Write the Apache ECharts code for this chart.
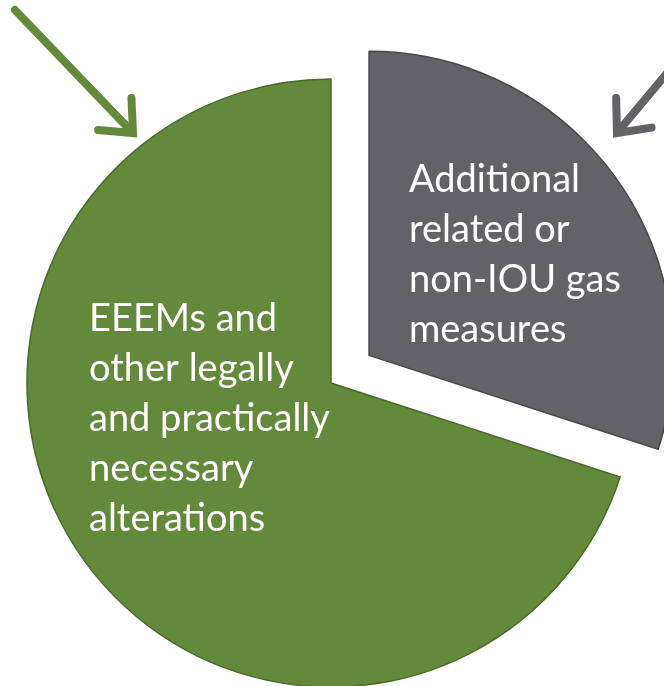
<!DOCTYPE html>
<html>
<head>
<meta charset="utf-8">
<script src="https://cdn.jsdelivr.net/npm/echarts@6/dist/echarts.min.js"></script>
<style>
  html, body { margin: 0; padding: 0; background: #fff; }
  #chart { width: 664px; height: 686px; }
</style>
</head>
<body>
<div id="chart"></div>
<script>
// slices, first one starts at 12 o'clock and runs clockwise
const names = ['Additional\nrelated or\nnon-IOU gas\nmeasures', 'EEEMs and\nother legally\nand practically\nnecessary\nalterations']
const values = [30, 70]
const colors = ['#636267', '#638a3b']
const borders = ['#48474c', '#4a6a2a']
const exploded = [true, false]

const FONT = 'Lato, "Open Sans", sans-serif'

const chart = echarts.init(document.getElementById('chart'))

// arrow = shaft + open chevron head
const arrow = function (from, tip, color) {
  const dx = tip[0] - from[0]
  const dy = tip[1] - from[1]
  const len = Math.sqrt(dx * dx + dy * dy)
  const ux = dx / len
  const uy = dy / len
  const head = 35
  const spread = 0.72
  const ca = Math.cos(spread)
  const sa = Math.sin(spread)
  const a1 = [tip[0] - head * (ux * ca - uy * sa), tip[1] - head * (uy * ca + ux * sa)]
  const a2 = [tip[0] - head * (ux * ca + uy * sa), tip[1] - head * (uy * ca - ux * sa)]
  const st = { stroke: color, lineWidth: 8, lineCap: 'round', lineJoin: 'miter', fill: null }
  return [
    { type: 'polyline', z: 100, shape: { points: [from, [tip[0] - ux * 4, tip[1] - uy * 4]] }, style: st },
    { type: 'polyline', z: 100, shape: { points: [a1, tip, a2] }, style: st }
  ]
}

const option = {
  animation: false,
  series: [
    {
      type: 'pie',
      center: [331, 383],
      radius: 304,
      startAngle: 90,
      clockwise: true,
      selectedMode: 'multiple',
      selectedOffset: 47,
      label: { show: false },
      labelLine: { show: false },
      emphasis: { disabled: true },
      data: values.map((v, i) => ({
        value: v,
        name: names[i],
        selected: exploded[i],
        itemStyle: { color: colors[i], borderColor: borders[i], borderWidth: 1.5 }
      }))
    }
  ],
  graphic: [
    {
      type: 'text',
      x: 409,
      y: 155,
      z: 100,
      silent: true,
      style: { text: names[0], fill: '#fff', font: '38px ' + FONT, lineHeight: 50, verticalAlign: 'top' }
    },
    {
      type: 'text',
      x: 89,
      y: 294,
      z: 100,
      silent: true,
      style: { text: names[1], fill: '#fff', font: '38px ' + FONT, lineHeight: 50, verticalAlign: 'top' }
    }
  ]
    .concat(arrow([15, 10], [133, 133], '#638a3b'))
    .concat(arrow([668, 72], [617, 133], '#636267'))
}

chart.setOption(option)
</script>
</body>
</html>
